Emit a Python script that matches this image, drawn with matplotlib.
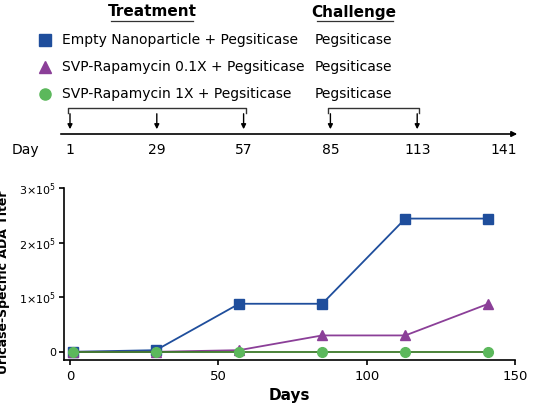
import matplotlib
matplotlib.use("Agg")
import matplotlib.pyplot as plt

days = [1, 29, 57, 85, 113, 141]
empty_np = [0, 3000, 88000, 88000, 244000, 244000]
svp_01x = [0, 0, 3000, 30000, 30000, 88000]
svp_1x = [0, 0, 0, 0, 0, 0]
dose_days = [1, 29, 57, 85, 113]
labels = ["Empty Nanoparticle + Pegsiticase", "SVP-Rapamycin 0.1X + Pegsiticase",
          "SVP-Rapamycin 1X + Pegsiticase"]
colors = ["#1f4e9c", "#8b3f98", "#5cb85c"]
markers = ["s", "^", "o"]

fig = plt.figure(figsize=(5.4, 4.03), dpi=100)

# top schematic drawn in pixel coordinates
top = fig.add_axes([0, 0, 1, 1])
top.set_xlim(0, 540)
top.set_ylim(403, 0)
top.axis("off")

def dx(d):
    return 70 + (d - 1) * 3.1

top.text(152, 12, "Treatment", fontsize=11, fontweight="bold", ha="center", va="center")
top.plot([111, 193], [21, 21], color="#333", lw=0.9)
top.text(354, 12, "Challenge", fontsize=11, fontweight="bold", ha="center", va="center")
top.plot([317, 393], [21, 21], color="#333", lw=0.9)
for i, lab in enumerate(labels):
    y = 40 + i * 27
    top.plot(45, y, marker=markers[i], color=colors[i], ms=8, ls="none")
    top.text(62, y, lab, fontsize=10, va="center")
    top.text(315, y, "Pegsiticase", fontsize=10, va="center")
top.annotate("", xy=(520, 134), xytext=(58, 134),
             arrowprops=dict(arrowstyle="-|>", color="black", lw=1.2, mutation_scale=8))
for d in dose_days:
    top.annotate("", xy=(dx(d), 132), xytext=(dx(d), 111),
                 arrowprops=dict(arrowstyle="-|>", color="black", lw=1, mutation_scale=7))
for a, b in [(1, 57), (85, 113)]:
    x0, x1 = dx(a) - 2, dx(b) + 2
    top.plot([x0, x0, x1, x1], [113, 108, 108, 113], color="#333", lw=1)
top.text(12, 150, "Day", fontsize=10, va="center")
for d in days:
    top.text(dx(d), 150, str(d), fontsize=10, ha="center", va="center")

ax = fig.add_axes([0.1185, 0.1067, 0.8355, 0.4268])
line_colors = ["#1f4e9c", "#8b3f98", "#3d7a2a"]
for vals, c, lc, m in zip([empty_np, svp_01x, svp_1x], colors, line_colors, markers):
    ax.plot(days, vals, color=lc, marker=m, mfc=c, mec=c, ms=7, lw=1.3,
            clip_on=False, zorder=3)
ax.set_xlim(-2, 150)
ax.set_ylim(-15000, 300000)
ax.set_xticks([0, 50, 100, 150])
ax.set_yticks([0, 100000, 200000, 300000])
ax.set_yticklabels(["0", r"1$\times$10$^5$", r"2$\times$10$^5$", r"3$\times$10$^5$"])
ax.spines["top"].set_visible(False)
ax.spines["right"].set_visible(False)
ax.spines["left"].set_linewidth(1.2)
ax.spines["bottom"].set_linewidth(1.2)
ax.tick_params(axis="y", labelsize=8, width=1.2, pad=2)
ax.tick_params(axis="x", labelsize=9.5, width=1.2)
ax.set_xlabel("Days", fontsize=11, fontweight="bold")
ax.set_ylabel("Uricase-Specific ADA Titer", fontsize=9, fontweight="bold")
ax.yaxis.set_label_coords(-0.12, 0.45)

fig.savefig("out.png", dpi=100)
